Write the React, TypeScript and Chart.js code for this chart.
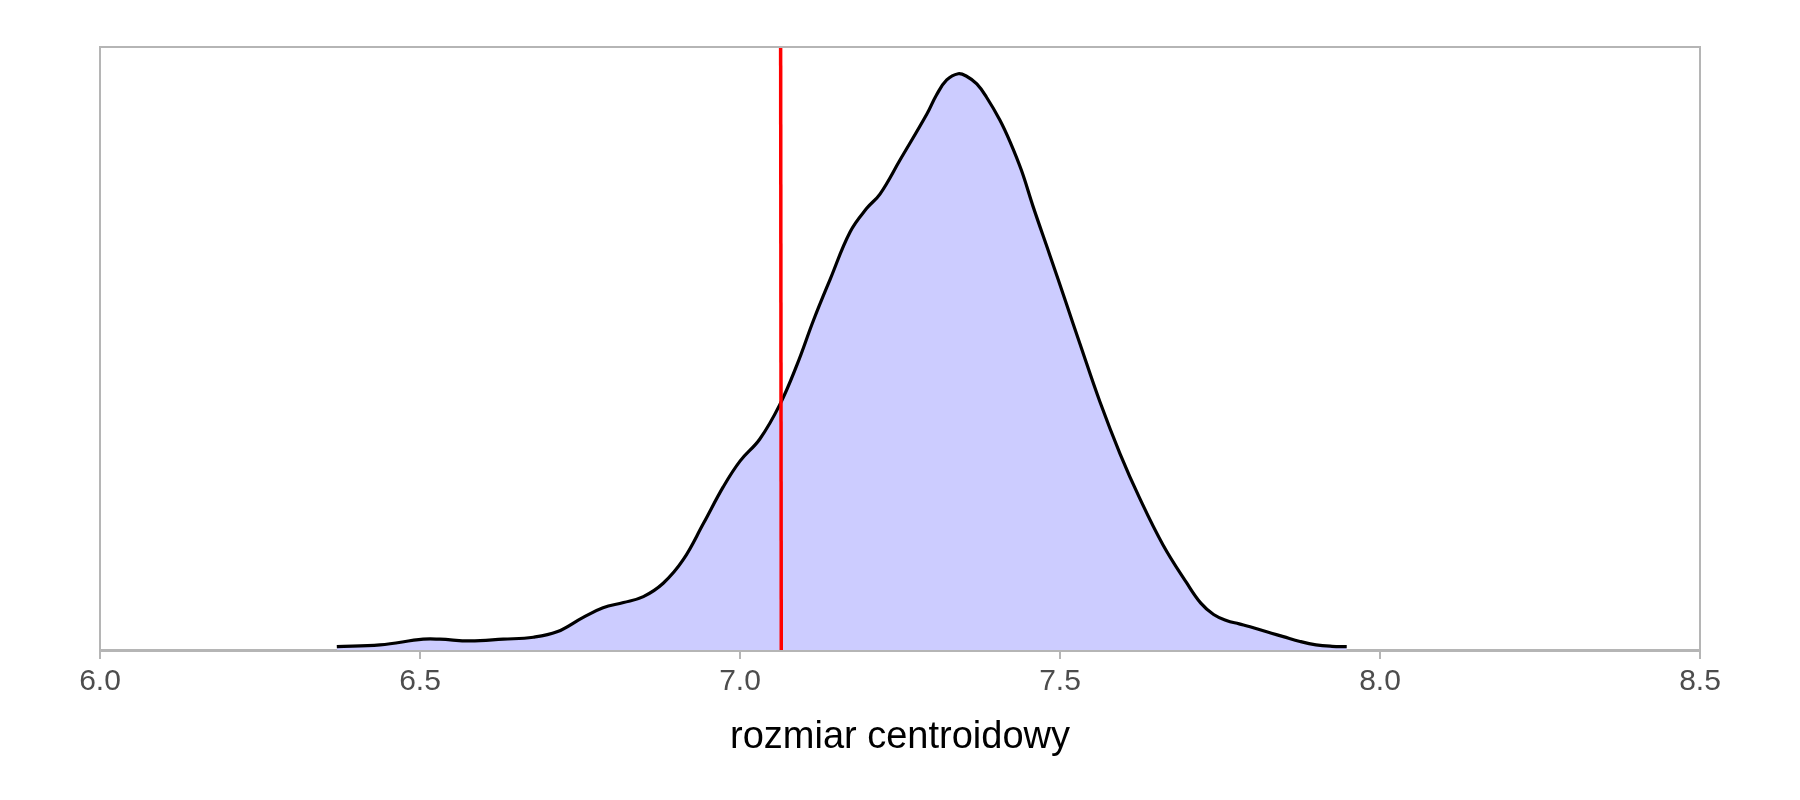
import React, { useEffect, useRef } from "react";
import { Chart, registerables } from "chart.js";

Chart.register(...registerables);

// density curve: x (rozmiar centroidowy) and estimated density
const densityX = [
  6.37, 6.4375, 6.505, 6.531, 6.578, 6.63, 6.677, 6.714, 6.755, 6.786, 6.818, 6.849, 6.88, 6.911,
  6.943, 6.974, 7.0, 7.031, 7.062, 7.089, 7.115, 7.141, 7.172, 7.198, 7.219, 7.25, 7.292, 7.307,
  7.323, 7.341, 7.354, 7.37, 7.385, 7.406, 7.422, 7.44, 7.458, 7.484, 7.51, 7.531, 7.5625, 7.594,
  7.625, 7.661, 7.698, 7.72, 7.74, 7.76, 7.78, 7.797, 7.823, 7.849, 7.875, 7.9, 7.925, 7.948,
];
const densityY = [
  0.012, 0.018, 0.038, 0.038, 0.032, 0.038, 0.045, 0.064, 0.115, 0.149, 0.167, 0.188, 0.235, 0.317,
  0.446, 0.575, 0.665, 0.743, 0.863, 1.004, 1.162, 1.306, 1.472, 1.555, 1.606, 1.725, 1.887, 1.954,
  2.007, 2.029, 2.02, 1.993, 1.947, 1.866, 1.789, 1.687, 1.561, 1.391, 1.219, 1.079, 0.873, 0.69,
  0.532, 0.37, 0.236, 0.165, 0.125, 0.104, 0.092, 0.082, 0.064, 0.047, 0.03, 0.018, 0.013, 0.012,
];
// vertical reference line (mean)
const meanLineX = [7.0635, 7.0645];
const X_MIN = 6.0;
const X_MAX = 8.5;
const X_STEP = 0.5;
const Y_MAX = 2.123;
const axisTitle = "rozmiar centroidowy";

const GRAY = "#b5b5b5";

const framePlugin = {
  id: "panelFrame",
  afterDraw(chart: any) {
    const { ctx, chartArea } = chart;
    ctx.save();
    ctx.strokeStyle = GRAY;
    ctx.lineWidth = 2;
    ctx.beginPath();
    ctx.moveTo(chartArea.left, chartArea.bottom);
    ctx.lineTo(chartArea.left, chartArea.top);
    ctx.lineTo(chartArea.right, chartArea.top);
    ctx.lineTo(chartArea.right, chartArea.bottom);
    ctx.stroke();
    ctx.restore();
  },
};

export default function App() {
  const ref = useRef<HTMLCanvasElement | null>(null);

  useEffect(() => {
    if (!ref.current) return;
    Chart.defaults.font.family = "'Liberation Sans', Arial, Helvetica, sans-serif";
    const chart = new Chart(ref.current, {
      type: "line",
      data: {
        datasets: [
          {
            label: "mean",
            data: [
              { x: meanLineX[0], y: Y_MAX },
              { x: meanLineX[1], y: 0 },
            ],
            borderColor: "#ff0000",
            borderWidth: 3.5,
            pointRadius: 0,
            fill: false,
            order: 0,
          },
          {
            label: "density",
            data: densityX.map((x, i) => ({ x, y: densityY[i] })),
            borderColor: "#000000",
            borderWidth: 3.2,
            backgroundColor: "#ccccff",
            fill: "origin",
            pointRadius: 0,
            tension: 0.4,
            order: 1,
          },
        ],
      },
      options: {
        animation: false,
        responsive: false,
        devicePixelRatio: 1,
        layout: { padding: { left: 100, right: 100, top: 47, bottom: 0 } },
        plugins: {
          legend: { display: false },
          tooltip: { enabled: false },
        },
        scales: {
          x: {
            type: "linear",
            min: X_MIN,
            max: X_MAX,
            z: 1,
            afterFit: (scale: any) => {
              scale.height = 150;
            },
            ticks: {
              stepSize: X_STEP,
              color: "#4d4d4d",
              font: { size: 30 },
              padding: 5,
              maxRotation: 0,
              callback: (v: any) => Number(v).toFixed(1),
            },
            grid: {
              drawOnChartArea: false,
              drawTicks: true,
              tickLength: 9,
              color: GRAY,
              lineWidth: 2,
            },
            border: { display: true, color: GRAY, width: 3 },
            title: {
              display: true,
              text: axisTitle,
              color: "#000000",
              font: { size: 38 },
              padding: { top: 0, bottom: 40 },
            },
          },
          y: {
            display: false,
            min: 0,
            max: Y_MAX,
          },
        },
      },
      plugins: [framePlugin],
    });
    return () => chart.destroy();
  }, []);

  return (
    <div style={{ position: "absolute", left: 0, top: 0, width: 1800, height: 800, background: "#fff" }}>
      <canvas ref={ref} width={1800} height={800} />
    </div>
  );
}
